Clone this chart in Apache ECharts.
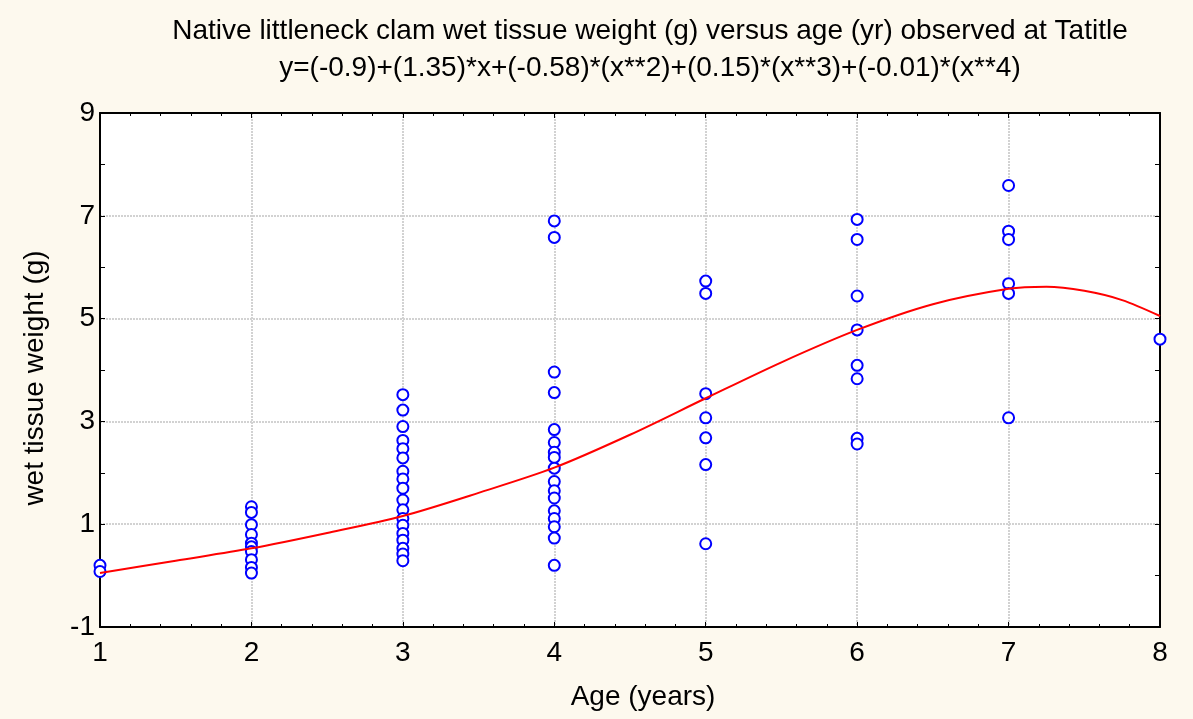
<!DOCTYPE html>
<html>
<head>
<meta charset="utf-8">
<title>Native littleneck clam</title>
<script src="https://cdn.jsdelivr.net/npm/echarts@6/dist/echarts.min.js"></script>
<style>
  html, body { margin: 0; padding: 0; background: #fdf9ee; }
  #chart { width: 1193px; height: 719px; }
</style>
</head>
<body>
<div id="chart"></div>
<script>
// observed wet tissue weight (g), grouped by age (years)
const ages = [1, 2, 3, 4, 5, 6, 7, 8];
const weightAge1 = [0.20, 0.08];
const weightAge2 = [1.34, 1.23, 0.99, 0.80, 0.63, 0.56, 0.47, 0.31, 0.16, 0.05];
const weightAge3 = [3.52, 3.22, 2.90, 2.63, 2.47, 2.29, 2.03, 1.88, 1.70, 1.47, 1.28, 1.11, 0.98, 0.82, 0.69, 0.53, 0.42, 0.29];
const weightAge4 = [6.90, 6.58, 3.96, 3.56, 2.84, 2.59, 2.40, 2.30, 2.09, 1.83, 1.65, 1.51, 1.26, 1.11, 0.95, 0.73, 0.20];
const weightAge5 = [5.73, 5.49, 3.54, 3.07, 2.68, 2.16, 0.62];
const weightAge6 = [6.93, 6.54, 5.44, 4.78, 4.09, 3.83, 2.67, 2.56];
const weightAge7 = [7.59, 6.70, 6.54, 5.68, 5.49, 3.07];
const weightAge8 = [4.60];
const weightsByAge = [weightAge1, weightAge2, weightAge3, weightAge4, weightAge5, weightAge6, weightAge7, weightAge8];

// fitted curve
const fitAge = [1, 1.5, 2, 2.5, 3, 3.5, 4, 4.5, 5, 5.5, 6, 6.5, 7, 7.25, 7.5, 7.75, 8];
const fitWeight = [0.05, 0.29, 0.53, 0.83, 1.16, 1.61, 2.10, 2.74, 3.45, 4.15, 4.78, 5.28, 5.58, 5.62, 5.54, 5.36, 5.05];

const titleText = "Native littleneck clam wet tissue weight (g) versus age (yr) observed at Tatitle\n" +
  "y=(-0.9)+(1.35)*x+(-0.58)*(x**2)+(0.15)*(x**3)+(-0.01)*(x**4)";

const points = [];
ages.forEach((a, i) => {
  weightsByAge[i].forEach(w => points.push([a, w]));
});
const fitLine = fitAge.map((a, i) => [a, fitWeight[i]]);

const font = "'Liberation Sans', Arial, sans-serif";
const fontSize = 28;
const gridLine = { show: true, lineStyle: { color: "#d2d2d2", width: 2, type: [2, 1] } };

const myChart = echarts.init(document.getElementById("chart"));
const option = {
  backgroundColor: "#fdf9ee",
  animation: false,
  textStyle: { fontFamily: font },
  title: {
    text: titleText,
    left: 645,
    top: 8,
    textAlign: "center",
    textStyle: { fontFamily: font, fontSize: fontSize, fontWeight: "normal", color: "#000", lineHeight: 37 }
  },
  grid: {
    left: 100, right: 33, top: 113, bottom: 92,
    show: true, backgroundColor: "#fff", borderColor: "#000", borderWidth: 0
  },
  xAxis: [
    {
      type: "value", min: 1, max: 8, interval: 1,
      name: "Age (years)", nameLocation: "middle", nameGap: 56,
      nameTextStyle: { fontSize: fontSize, color: "#000", fontFamily: font, padding: [0, 0, 0, 26] },
      axisLine: { show: true, onZero: false, lineStyle: { color: "#000", width: 2 } },
      axisTick: { show: true, inside: true, length: 5, lineStyle: { color: "#000" } },
      minorTick: { show: true, splitNumber: 5, length: 3, lineStyle: { color: "#000" } },
      axisLabel: { fontSize: fontSize, color: "#000", margin: 12, fontFamily: font },
      splitLine: gridLine
    },
    {
      type: "value", min: 1, max: 8, interval: 1, position: "top",
      axisLine: { show: true, onZero: false, lineStyle: { color: "#000", width: 2 } },
      axisTick: { show: true, inside: true, length: 5, lineStyle: { color: "#000" } },
      minorTick: { show: true, splitNumber: 5, length: 3, lineStyle: { color: "#000" } },
      axisLabel: { show: false },
      splitLine: { show: false }
    }
  ],
  yAxis: [
    {
      type: "value", min: -1, max: 9, interval: 2,
      name: "wet tissue weight (g)", nameLocation: "middle", nameGap: 51,
      nameTextStyle: { fontSize: fontSize, color: "#000", fontFamily: font, padding: [0, 16, 0, 0] },
      axisLine: { show: true, onZero: false, lineStyle: { color: "#000", width: 2 } },
      axisTick: { show: true, inside: true, length: 5, lineStyle: { color: "#000" } },
      minorTick: { show: true, splitNumber: 2, length: 5, lineStyle: { color: "#000" } },
      axisLabel: { fontSize: fontSize, color: "#000", margin: 5, fontFamily: font },
      splitLine: gridLine
    },
    {
      type: "value", min: -1, max: 9, interval: 2, position: "right",
      axisLine: { show: true, onZero: false, lineStyle: { color: "#000", width: 2 } },
      axisTick: { show: true, inside: true, length: 5, lineStyle: { color: "#000" } },
      minorTick: { show: true, splitNumber: 2, length: 5, lineStyle: { color: "#000" } },
      axisLabel: { show: false },
      splitLine: { show: false }
    }
  ],
  series: [
    {
      type: "line",
      data: fitLine,
      smooth: 0.3,
      showSymbol: false,
      lineStyle: { color: "#ff0000", width: 2 },
      z: 3
    },
    {
      type: "scatter",
      data: points,
      symbol: "emptyCircle",
      symbolSize: 11,
      itemStyle: { color: "#0000ff", borderWidth: 1.8, opacity: 1 },
      z: 2
    }
  ]
};
myChart.clear();
myChart.setOption(option);
</script>
</body>
</html>
